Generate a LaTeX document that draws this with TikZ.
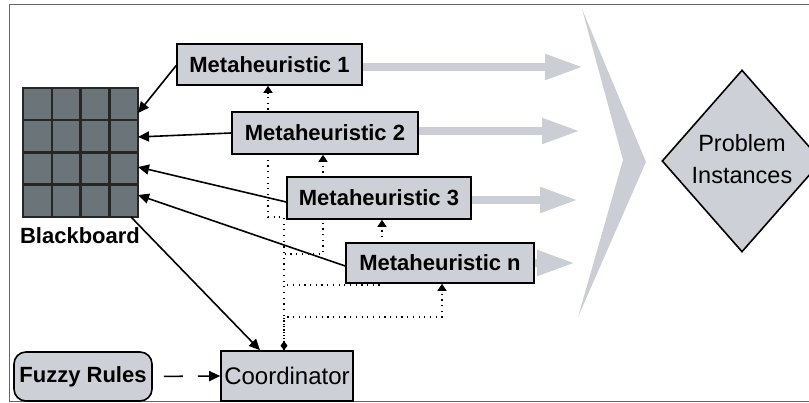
\documentclass[tikz,border=0pt]{standalone}
\usepackage{fontspec}
\setmainfont{Liberation Sans}
\usetikzlibrary{arrows.meta,shapes.geometric}
\pgfdeclarelayer{bg}
\pgfsetlayers{bg,main}
\definecolor{boxgray}{HTML}{CDD0D6}
\definecolor{bbgray}{HTML}{6B7478}
\definecolor{arrgray}{HTML}{CBCED4}
\definecolor{framegray}{HTML}{666666}
\begin{document}
\begin{tikzpicture}[x=1pt,y=-1pt,
  mbox/.style={draw=black,line width=1.6pt,fill=boxgray,inner sep=0pt,
    font=\fontsize{22}{26}\selectfont\bfseries},
  bigarr/.style={arrgray,line width=8pt,-{Triangle[length=38pt,width=24pt]}},
  blk/.style={line width=1.6pt,-{Triangle[length=11pt,width=10pt]}},
  dotl/.style={line width=1.1pt,dash pattern=on 1.2pt off 4.5pt,
    -{Triangle[length=7pt,width=9pt]}},
  cell/.style={line width=2.5pt,draw=black!85}]
\useasboundingbox (0,0) rectangle (809,403);
\clip (0,0) rectangle (809,403);
% frame
\draw[framegray,line width=1pt] (809,5) -- (9,5) -- (9,402) -- (809,402);
% boxes
\node[mbox,minimum width=185pt,minimum height=41pt] (m1) at (269.5,64.5) {Metaheuristic 1};
\node[mbox,minimum width=186pt,minimum height=42pt] (m2) at (325,133) {Metaheuristic 2};
\node[mbox,minimum width=184pt,minimum height=42pt] (m3) at (379,198) {Metaheuristic 3};
\node[mbox,minimum width=188pt,minimum height=40pt] (mn) at (440,263) {Metaheuristic n};
\node[mbox,minimum width=132pt,minimum height=50pt,font=\fontsize{24}{28}\selectfont] (co) at (287,376) {Coordinator};
\node[mbox,rounded corners=12pt,minimum width=138pt,minimum height=49pt] (fz) at (83,376.5) {Fuzzy Rules};
% blackboard
\node[cell,fill=bbgray,minimum width=115pt,minimum height=129pt,inner sep=0pt] (bb) at (80.5,152.5) {};
\foreach \x in {51.75,80.5,109.25} \draw[cell] (\x,88) -- (\x,217);
\foreach \y in {120.25,152.5,184.75} \draw[cell] (23,\y) -- (138,\y);
\node[font=\fontsize{22}{26}\selectfont\bfseries] (bbl) at (80,236) {Blackboard};
% problem instances
\node[diamond,draw=black,line width=1.6pt,fill=boxgray,minimum width=160pt,minimum height=182pt,
  inner sep=0pt,align=center,font=\fontsize{23.5}{32}\selectfont] (pi) at (742,161)
  {\raisebox{5pt}{Problem}\\\raisebox{5pt}{Instances}};
% tips of grey arrows
\coordinate (t1) at (583,67);
\coordinate (t2) at (580,131);
\coordinate (t3) at (578,200);
\coordinate (t4) at (575,263);
% blackboard arrival points
\coordinate (bb1) at (138,113);
\coordinate (bb2) at (138,137);
\coordinate (bb3) at (138,167);
\coordinate (bb4) at (138,195);
\coordinate (bb5) at (131,217);
% dotted corners
\coordinate (cs) at ([xshift=-3pt]co.north);
\coordinate (d1) at (268,217);
\coordinate (d2) at (323,254);
\coordinate (d3) at (382,285);
\coordinate (dn) at (442,317);
\begin{pgfonlayer}{bg}
  \fill[arrgray] (582,9) -- (646,162) -- (578,317) -- (623,160) -- cycle;
  \draw[bigarr] (m1.east |- t1) -- (t1);
  \draw[bigarr] (m2.east |- t2) -- (t2);
  \draw[bigarr] (m3.east |- t3) -- (t3);
  \draw[bigarr] (mn.east |- t4) -- (t4);
  \draw[dotl,{Diamond[length=9pt,width=7pt]}-{Triangle[length=7pt,width=9pt]}] (cs) |- (dn) -- (dn |- mn.south);
  \draw[dotl] (cs) |- (d3) -- (d3 |- m3.south);
  \draw[dotl] (cs) |- (d2) -- (d2 |- m2.south);
  \draw[dotl] (cs) |- (d1) -- (d1 |- m1.south);
\end{pgfonlayer}
% black arrows
\draw[blk] ([yshift=-1pt]m1.west) -- (bb1);
\draw[blk] (m2.west) -- (bb2);
\draw[blk] ([yshift=-4pt]m3.west) -- (bb3);
\draw[blk] ([yshift=-3pt]mn.west) -- (bb4);
\draw[blk] (bb5) -- ([xshift=-27pt]co.north);
\draw[line width=1.6pt,dash pattern=on 19pt off 15pt,shorten <=11pt,-{Triangle[length=11pt,width=10pt]}] (fz.east) -- (co.west);
\end{tikzpicture}
\end{document}
